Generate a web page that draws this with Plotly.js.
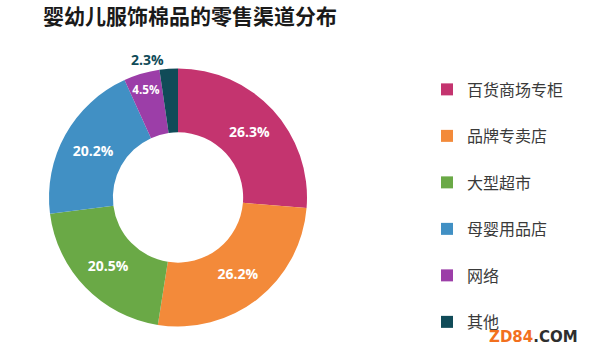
<!DOCTYPE html>
<html>
<head>
<meta charset="utf-8">
<script src="https://cdn.plot.ly/plotly-3.0.1.min.js"></script>
<style>html,body{margin:0;padding:0;background:#fff;}#chart{width:590px;height:355px;}</style>
</head>
<body>
<div id="chart"></div>
<script>
var categories = ['百货商场专柜', '品牌专卖店', '大型超市', '母婴用品店', '网络', '其他'];
var shares = [26.3, 26.2, 20.5, 20.2, 4.5, 2.3];
var sliceColors = ['#C4346F', '#F38A3A', '#6AA946', '#4190C4', '#9C3EA8', '#104B58'];

// legend entries: category text plus a blank second line (for the wide spacing of the legend)
var legendLabels = categories.map(function (c) {
  return '<span style="font-size:16px">' + c + '</span><br> ';
});
var textPositions = shares.map(function (v) { return v < 3 ? 'outside' : 'inside'; });

var trace = {
  type: 'pie',
  labels: legendLabels,
  values: shares,
  sort: false,
  direction: 'clockwise',
  rotation: 0,
  hole: 0.505,
  marker: {colors: sliceColors, line: {width: 0}},
  texttemplate: '%{value:.1f}%',
  textposition: textPositions,
  insidetextorientation: 'horizontal',
  textfont: {family: 'Open Sans, DejaVu Sans, sans-serif', size: 14, color: '#ffffff', weight: 'bold'},
  outsidetextfont: {family: 'Open Sans, DejaVu Sans, sans-serif', size: 14, color: '#104B58', weight: 'bold'},
  domain: {x: [(178 - 129) / 590, (178 + 129) / 590], y: [1 - (197.5 + 129) / 355, 1 - (197.5 - 129) / 355]},
  hoverinfo: 'percent'
};

var layout = {
  width: 590, height: 355,
  margin: {l: 0, r: 0, t: 0, b: 0, autoexpand: false},
  paper_bgcolor: '#ffffff',
  title: {
    text: '<b>婴幼儿服饰棉品的零售渠道分布</b>',
    font: {family: 'Noto Sans CJK SC, sans-serif', size: 21, color: '#1a1a1a'},
    x: 43 / 590, xanchor: 'left', xref: 'container',
    y: 1 - 17 / 355, yanchor: 'middle', yref: 'container'
  },
  showlegend: true,
  legend: {
    x: (467 - 40) / 590, xanchor: 'left',
    y: 1 - 72 / 355, yanchor: 'top',
    valign: 'top',
    font: {family: 'Noto Sans CJK SC, sans-serif', size: 16.73, color: '#3a3a3a'},
    bgcolor: 'rgba(0,0,0,0)'
  },
  annotations: [{
    text: '<b><span style="color:#F2701E">ZD84</span><span style="color:#2e2e2e">.COM</span></b>',
    xref: 'paper', yref: 'paper',
    x: 487 / 590, xanchor: 'left',
    y: 1 - 337 / 355, yanchor: 'middle',
    showarrow: false,
    font: {family: 'DejaVu Sans, sans-serif', size: 15}
  }]
};

Plotly.newPlot('chart', [trace], layout, {displayModeBar: false, staticPlot: true});
</script>
</body>
</html>
